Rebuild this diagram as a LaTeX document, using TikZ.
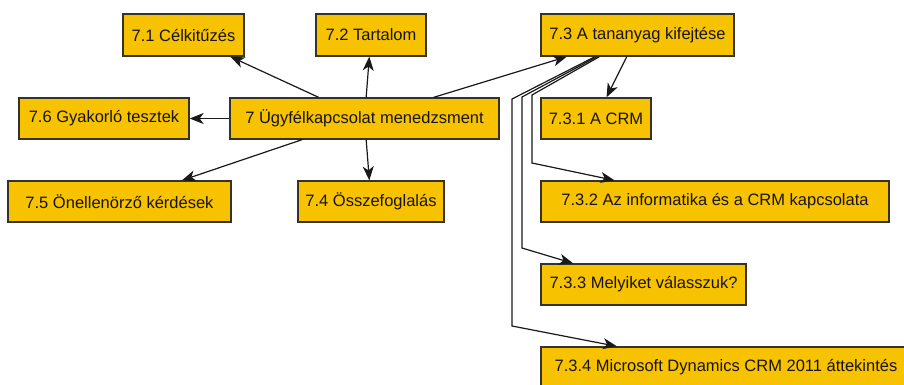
\documentclass[tikz,border=0pt]{standalone}
\usepackage{fontspec}
\setmainfont{Liberation Sans}
\usetikzlibrary{arrows.meta}
\definecolor{boxfill}{RGB}{247,194,0}
\definecolor{boxline}{RGB}{55,50,40}
\definecolor{txt}{RGB}{25,20,15}
\tikzset{
  box/.style={draw=boxline, fill=boxfill, line width=1.3pt, inner sep=0pt,
    minimum height=41pt, text=txt, font=\fontsize{16.5}{18}\selectfont, anchor=center},
  conn/.style={draw=black!90, line width=1.2pt,
    -{Stealth[length=14pt,width=11pt,inset=4pt]}}
}
\begin{document}
\begin{tikzpicture}[x=1pt,y=-1pt]
\fill[white] (0,0) rectangle (904,384);
\useasboundingbox (0,0) rectangle (904,384);
% nodes
\node[box, minimum width=121pt, minimum height=42pt] (b71) at (183.5,35) {7.1 Célkitűzés};
\node[box, minimum width=110pt, minimum height=42pt] (b72) at (371,35) {7.2 Tartalom};
\node[box, minimum width=193pt, minimum height=42pt] (b73) at (637.5,35) {7.3 A tananyag kifejtése};
\node[box, minimum width=170pt] (b76) at (104,118.5) {7.6 Gyakorló tesztek};
\node[box, minimum width=269pt] (root) at (364.5,118.5) {7 Ügyfélkapcsolat menedzsment};
\node[box, minimum width=110pt] (b731) at (596,118.5) {7.3.1 A CRM};
\node[box, minimum width=223pt] (b75) at (119.5,201.5) {7.5 Önellenörző kérdések};
\node[box, minimum width=146pt] (b74) at (371,201.5) {7.4 Összefoglalás};
\node[box, minimum width=348pt] (b732) at (715,201.5) {7.3.2 Az informatika és a CRM kapcsolata};
\node[box, minimum width=205pt] (b733) at (643.5,284.5) {7.3.3 Melyiket válasszuk?};
\node[box, minimum width=370pt] (b734) at (726,367.5) {7.3.4 Microsoft Dynamics CRM 2011 áttekintés};
% bend points
\coordinate (p1a) at (532,95);
\coordinate (p1b) at (532,163);
\coordinate (p2a) at (522,97);
\coordinate (p2b) at (522,248);
\coordinate (p3a) at (512,99);
\coordinate (p3b) at (512,326);
% connectors
\draw[conn] (root) -- (b71);
\draw[conn] (root) -- (b72);
\draw[conn] (root) -- (b76);
\draw[conn] (root) -- (b75);
\draw[conn] (root) -- (b74);
\draw[conn] (root) -- (b73);
\draw[conn] (b73) -- (b731);
\draw[conn] (b73) -- (p1a) -- (p1b) -- (b732);
\draw[conn] (b73) -- (p2a) -- (p2b) -- (b733);
\draw[conn] (b73) -- (p3a) -- (p3b) -- (b734);
\end{tikzpicture}
\end{document}
